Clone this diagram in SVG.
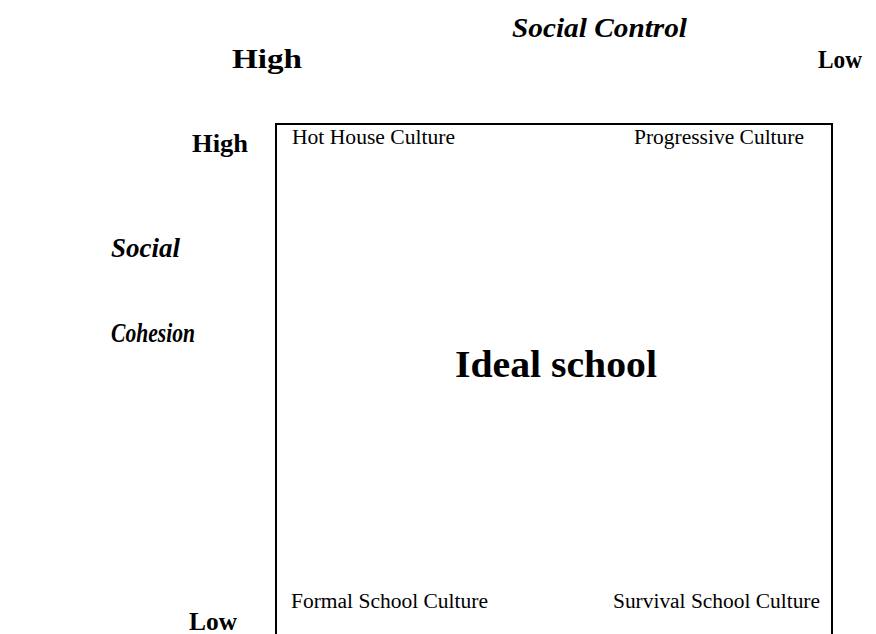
<svg xmlns="http://www.w3.org/2000/svg" width="876" height="634" viewBox="0 0 876 634">
<style>
text{font-family:"Liberation Serif","Times New Roman",serif;fill:#000}
.axis{font-weight:bold;font-style:italic;font-size:28px}
.lvl{font-weight:bold;font-size:25px}
.lab{font-size:20px}
.big{font-weight:bold;font-size:38px}
</style>
<rect width="876" height="634" fill="#fff"/>
<g id="axis-control">
<text class="axis" x="512" y="37" textLength="175" lengthAdjust="spacingAndGlyphs">Social Control</text>
<text class="lvl" x="232" y="68" style="font-size:28px" textLength="70" lengthAdjust="spacingAndGlyphs">High</text>
<text class="lvl" x="818" y="68" textLength="44" lengthAdjust="spacingAndGlyphs">Low</text>
</g>
<g id="axis-cohesion">
<text class="axis" x="111" y="257" textLength="69" lengthAdjust="spacingAndGlyphs">Social</text>
<text class="axis" x="111" y="342" style="font-size:27px" textLength="84" lengthAdjust="spacingAndGlyphs">Cohesion</text>
<text class="lvl" x="192" y="152" textLength="56" lengthAdjust="spacingAndGlyphs">High</text>
<text class="lvl" x="189" y="630" textLength="48" lengthAdjust="spacingAndGlyphs">Low</text>
</g>
<g id="grid">
<rect x="276" y="124" width="556" height="530" fill="none" stroke="#000" stroke-width="2"/>
</g>
<g id="hot-house"><text class="lab" x="292" y="144" textLength="163" lengthAdjust="spacingAndGlyphs">Hot House Culture</text></g>
<g id="progressive"><text class="lab" x="634" y="144" textLength="170" lengthAdjust="spacingAndGlyphs">Progressive Culture</text></g>
<g id="ideal"><text class="big" x="455" y="377" textLength="202" lengthAdjust="spacingAndGlyphs">Ideal school</text></g>
<g id="formal"><text class="lab" x="291" y="608" textLength="197" lengthAdjust="spacingAndGlyphs">Formal School Culture</text></g>
<g id="survival"><text class="lab" x="613" y="608" textLength="207" lengthAdjust="spacingAndGlyphs">Survival School Culture</text></g>
</svg>
